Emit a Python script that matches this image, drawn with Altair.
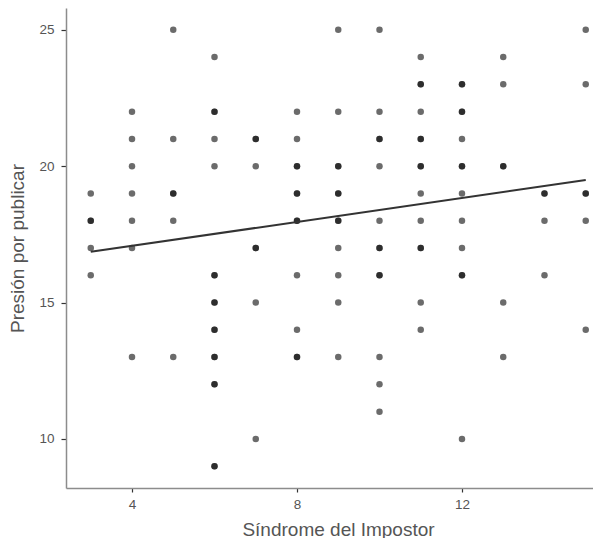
import altair as alt
import pandas as pd

# Scatter points: x (Síndrome del Impostor), y (Presión por publicar), n = overlapping count
pts_x = [3, 3, 3, 3,
         4, 4, 4, 4, 4, 4, 4,
         5, 5, 5, 5, 5,
         6, 6, 6, 6, 6, 6, 6, 6, 6, 6,
         7, 7, 7, 7, 7,
         8, 8, 8, 8, 8, 8, 8, 8,
         9, 9, 9, 9, 9, 9, 9, 9, 9,
         10, 10, 10, 10, 10, 10, 10, 10, 10, 10,
         11, 11, 11, 11, 11, 11, 11, 11, 11, 11,
         12, 12, 12, 12, 12, 12, 12, 12, 12,
         13, 13, 13, 13, 13,
         14, 14, 14,
         15, 15, 15, 15, 15]
pts_y = [19, 18, 17, 16,
         22, 21, 20, 19, 18, 17, 13,
         25, 21, 19, 18, 13,
         24, 22, 21, 20, 16, 15, 14, 13, 12, 9,
         21, 20, 17, 15, 10,
         22, 21, 20, 19, 18, 16, 14, 13,
         25, 22, 20, 19, 18, 17, 16, 15, 13,
         25, 22, 21, 20, 18, 17, 16, 13, 12, 11,
         24, 23, 22, 21, 20, 19, 18, 17, 15, 14,
         23, 22, 21, 20, 19, 18, 17, 16, 10,
         24, 23, 20, 15, 13,
         19, 18, 16,
         25, 23, 19, 18, 14]
pts_n = [1, 2, 1, 1,
         1, 1, 1, 1, 1, 1, 1,
         1, 1, 2, 1, 1,
         1, 2, 1, 1, 2, 2, 2, 2, 2, 2,
         2, 1, 2, 1, 1,
         1, 1, 2, 2, 2, 1, 1, 2,
         1, 1, 2, 2, 2, 1, 1, 1, 1,
         1, 1, 2, 1, 1, 2, 2, 1, 1, 1,
         1, 2, 1, 2, 2, 1, 1, 2, 1, 1,
         2, 2, 1, 2, 1, 1, 1, 2, 1,
         1, 1, 2, 1, 1,
         2, 1, 1,
         1, 1, 2, 1, 1]

# Fitted regression line endpoints
line_x = [3, 15]
line_y = [16.86, 19.49]

x_ticks = [4, 8, 12]
y_ticks = [10, 15, 20, 25]

rows = []
for xv, yv, nv in zip(pts_x, pts_y, pts_n):
    for _ in range(nv):
        rows.append({"x": xv, "y": yv})
pts = pd.DataFrame(rows)
line_df = pd.DataFrame({"x": line_x, "y": line_y})

FONT = "Liberation Sans"

x_scale = alt.Scale(domain=[2.4, 15.176], nice=False, zero=False)
y_scale = alt.Scale(domain=[8.2, 25.8], nice=False, zero=False)

x_axis = alt.Axis(
    title="Síndrome del Impostor", values=x_ticks, grid=False,
    domainColor="#8c8c8c", domainWidth=1.5,
    tickColor="#333333", tickSize=4, tickWidth=1.2,
    labelFont=FONT, labelFontSize=13.5, labelColor="#555555", labelPadding=5,
    titleFont=FONT, titleFontSize=19, titleFontWeight="normal", titleColor="#555555",
    titleX=272, titleY=47, titleBaseline="alphabetic", titleAnchor="middle", titleAlign="center",
)
y_axis = alt.Axis(
    title="Presión por publicar", values=y_ticks, grid=False,
    domainColor="#8c8c8c", domainWidth=1.5,
    tickColor="#333333", tickSize=5, tickWidth=1.2,
    labelFont=FONT, labelFontSize=13.5, labelColor="#555555", labelPadding=7,
    titleFont=FONT, titleFontSize=19, titleFontWeight="normal", titleColor="#555555",
    titleX=-49, titleY=240, titleAngle=-90, titleBaseline="middle", titleAlign="center",
)

points = alt.Chart(pts).mark_circle(size=42, color="#000000", opacity=0.58).encode(
    x=alt.X("x:Q", scale=x_scale, axis=x_axis),
    y=alt.Y("y:Q", scale=y_scale, axis=y_axis),
)

line = alt.Chart(line_df).mark_line(color="#333333", strokeWidth=2).encode(
    x=alt.X("x:Q", scale=x_scale),
    y=alt.Y("y:Q", scale=y_scale),
)

chart = alt.layer(points, line).properties(
    width=527, height=480,
    padding={"left": 58, "top": 0, "right": 0, "bottom": 50},
    autosize=alt.AutoSizeParams(type="none"),
    background="#ffffff",
).configure_view(stroke=None)

chart.save("out.html", embed_options={"renderer": "svg", "actions": False})
